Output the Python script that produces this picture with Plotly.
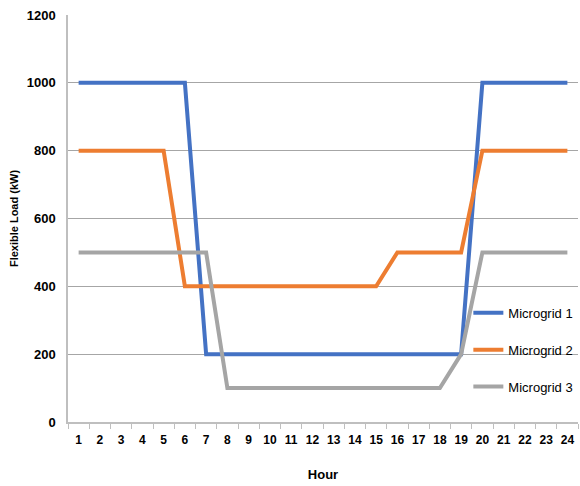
import plotly.graph_objects as go

# hourly flexible load per microgrid (kW)
hours = [str(h) for h in range(1, 25)]
microgrid_1 = [1000] * 6 + [200] * 13 + [1000] * 5
microgrid_2 = [800] * 5 + [400] * 10 + [500] * 4 + [800] * 5
microgrid_3 = [500] * 7 + [100] * 11 + [200] + [500] * 5

series = [
    ("Microgrid 1", microgrid_1, "#4472C4"),
    ("Microgrid 2", microgrid_2, "#ED7D31"),
    ("Microgrid 3", microgrid_3, "#A5A5A5"),
]

fnt = "Liberation Sans Narrow, Arial Narrow, Liberation Sans, Arial"

fig = go.Figure()
for name, vals, col in series:
    fig.add_trace(go.Scatter(
        x=hours, y=vals, name=name, mode="lines",
        line=dict(color=col, width=4),
        legendgroup=name,
    ))

fig.update_layout(
    width=580, height=486,
    margin=dict(l=68, r=2, t=15, b=64, autoexpand=False),
    plot_bgcolor="white", paper_bgcolor="white",
    font=dict(family=fnt, color="#000000", size=13),
    legend=dict(
        x=0.785, y=0.305, xanchor="left", yanchor="top",
        bgcolor="rgba(0,0,0,0)", tracegroupgap=17, itemwidth=30,
        font=dict(family=fnt, size=13, color="#000000"),
    ),
    showlegend=True,
)
fig.update_xaxes(
    type="category", range=[-0.5, len(hours) - 0.5],
    tickson="boundaries", ticks="outside", ticklen=5,
    tickcolor="#bfbfbf", showline=True, linecolor="#bfbfbf", linewidth=1.5,
    showgrid=False, tickfont=dict(size=12, weight="bold"), tickangle=0,
    ticklabelstandoff=6,
    title=dict(text="Hour", font=dict(size=13, weight="bold"), standoff=24),
)
fig.update_yaxes(
    range=[0, 1200], dtick=200, showgrid=True, gridcolor="#a6a6a6",
    gridwidth=1, showline=True, linecolor="#bfbfbf", linewidth=1.5,
    zeroline=False, tickfont=dict(size=13, weight="bold"), ticks="",
    ticklabelstandoff=8,
    title=dict(text="<b>Flexible Load (kW)</b>",
               font=dict(family="Liberation Sans, Arial", size=11), standoff=6),
)

fig.write_html("out.html", config={"displayModeBar": False},
               post_script="document.body.style.margin='0';")
